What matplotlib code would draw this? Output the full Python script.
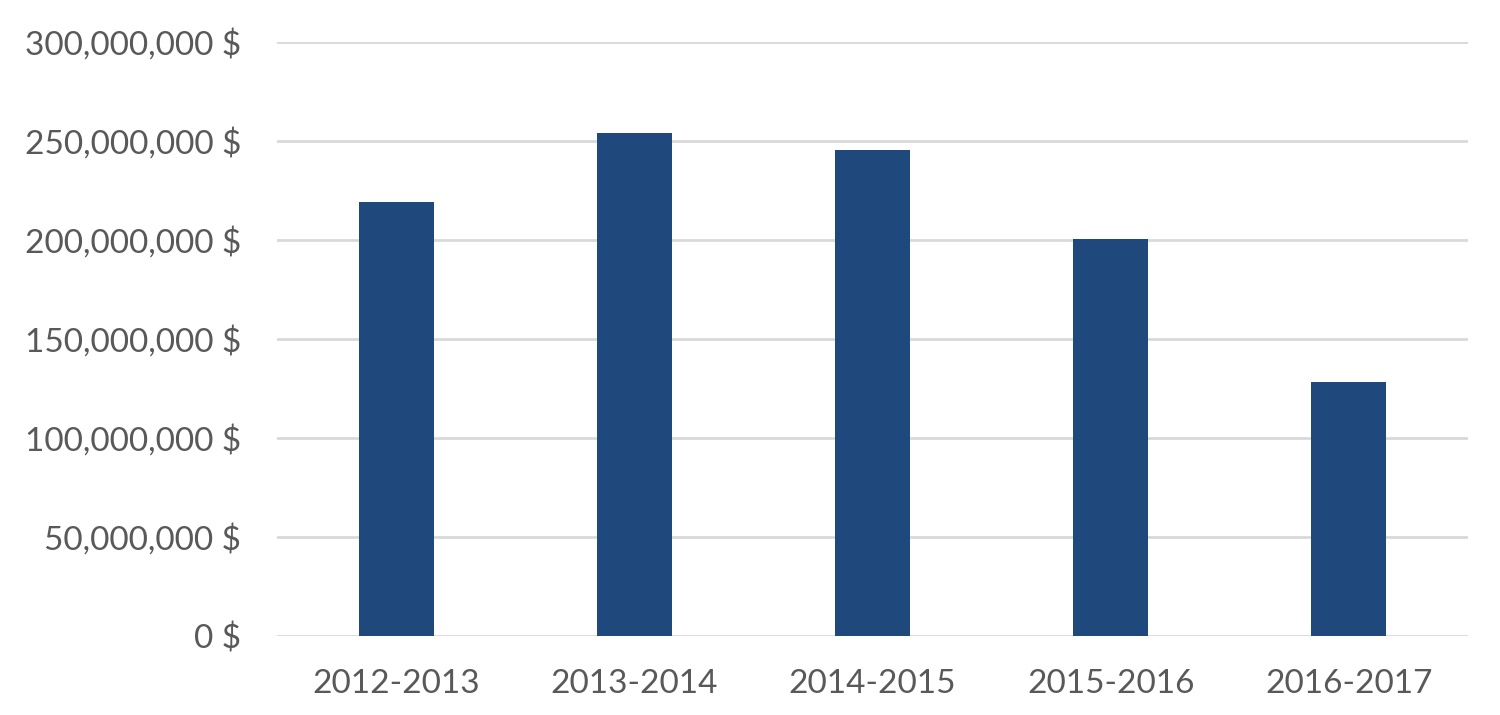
import matplotlib
matplotlib.use("Agg")
from matplotlib import pyplot as plt
from matplotlib.ticker import FuncFormatter

years = ["2012-2013", "2013-2014", "2014-2015", "2015-2016", "2016-2017"]
amounts = [219_200_000, 253_800_000, 245_500_000, 200_600_000, 128_400_000]
y_ticks = [0, 50_000_000, 100_000_000, 150_000_000, 200_000_000, 250_000_000, 300_000_000]

BAR_COLOR = "#1f497d"
TEXT_COLOR = "#595959"
GRID_COLOR = "#d9d9d9"

plt.rcParams["font.family"] = ["Lato", "DejaVu Sans"]

fig = plt.figure(figsize=(15, 7.15), dpi=100)
ax = fig.add_axes([0.1847, 0.1105, 0.794, 0.8312])

ax.bar(range(len(years)), amounts, width=0.315, color=BAR_COLOR, zorder=3)

ax.set_xlim(-0.5, len(years) - 0.5)
ax.set_ylim(0, 300_000_000)
ax.set_yticks(y_ticks)
ax.yaxis.set_major_formatter(FuncFormatter(lambda v, _: f"{int(v):,} $"))
ax.set_xticks(range(len(years)))
ax.set_xticklabels(years)

ax.grid(axis="y", color=GRID_COLOR, linewidth=2.0, zorder=0)
for side in ["top", "right", "left", "bottom"]:
    ax.spines[side].set_visible(False)

ax.tick_params(axis="both", length=0, labelsize=24, labelcolor=TEXT_COLOR)
ax.tick_params(axis="y", pad=26)
ax.tick_params(axis="x", pad=24)

fig.savefig("out.png", dpi=100)
